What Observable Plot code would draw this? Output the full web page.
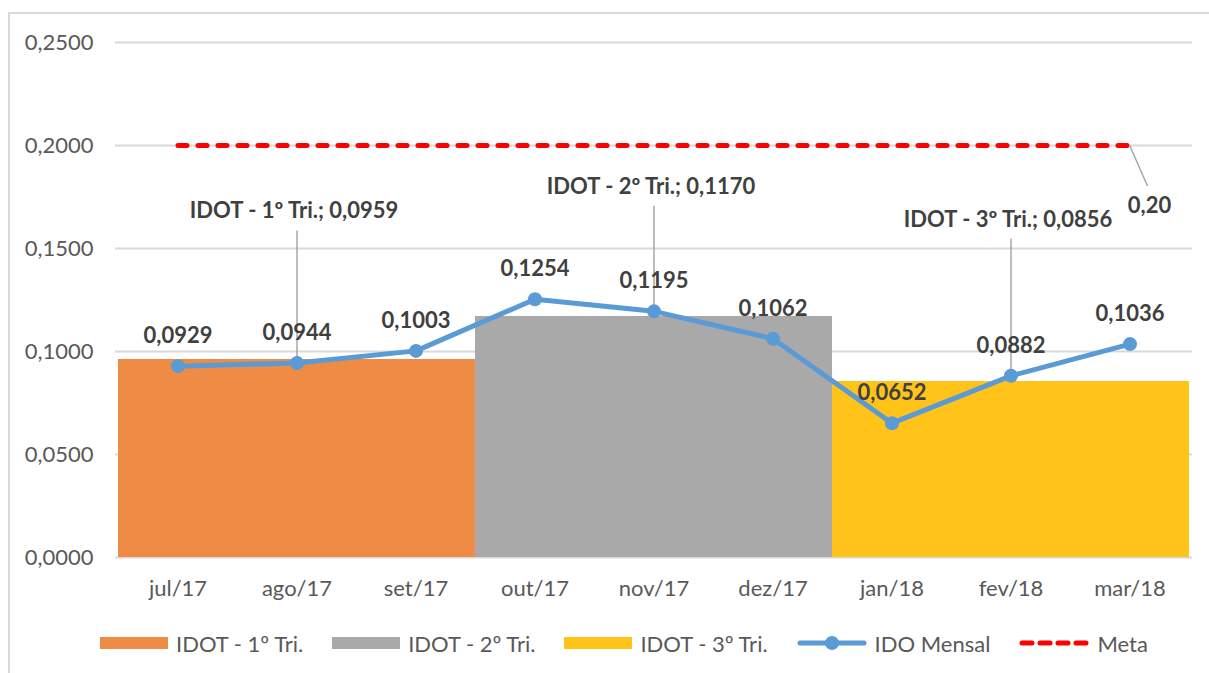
<!DOCTYPE html>
<html>
<head>
<meta charset="utf-8">
<script src="https://cdn.jsdelivr.net/npm/d3@7"></script>
<script src="https://cdn.jsdelivr.net/npm/@observablehq/plot@0.6"></script>
<style>
  html, body { margin: 0; padding: 0; background: #fff; }
  #frame { position: relative; width: 1209px; height: 673px; overflow: hidden; font-family: Lato, "Open Sans", sans-serif; }
  #border { position: absolute; left: 8px; top: 12px; width: 1220px; height: 700px; border: 2px solid #d9d9d9; box-sizing: border-box; }
  #chart { position: absolute; left: 0; top: 0; }
  #legend { position: absolute; left: 100px; top: 630px; height: 26px; display: flex; align-items: center; font-size: 22px; color: #595959; white-space: nowrap; }
  .item { display: flex; align-items: center; margin-right: 29px; }
  .item .sw { display: block; margin-right: 8px; }
</style>
</head>
<body>
<div id="frame">
  <div id="border"></div>
  <div id="chart"></div>
  <div id="legend"></div>
</div>
<script>
// ---- data ----
const months = ["jul/17","ago/17","set/17","out/17","nov/17","dez/17","jan/18","fev/18","mar/18"];
const idoMensal = [0.0929,0.0944,0.1003,0.1254,0.1195,0.1062,0.0652,0.0882,0.1036];
const quarters = ["IDOT - 1º Tri.","IDOT - 2º Tri.","IDOT - 3º Tri."];
const quarterValues = [0.0959,0.1170,0.0856];
const quarterOfMonth = [0,0,0,1,1,1,2,2,2];
const quarterLabelMonth = ["ago/17","nov/17","fev/18"];
const metaValue = 0.20;
const yTicks = [0,0.05,0.10,0.15,0.20,0.25];
const seriesNames = ["IDOT - 1º Tri.","IDOT - 2º Tri.","IDOT - 3º Tri.","IDO Mensal","Meta"];

// ---- styles ----
const quarterColors = ["#EE8B45","#A9A9A9","#FFC31A"];
const lineColor = "#5B9BD5";
const metaColor = "#FF0000";
const labelColor = "#404040";
const axisColor = "#595959";
const gridColor = "#d9d9d9";
const FS = 22;
// annotation placement (label heights above bar tops, in data units)
const quarterLabelLift = [0.0721, 0.0630, 0.0784];

const fmt = (d, n = 4) => d3.format(`.${n}f`)(d).replace(".", ",");

const barData = months.map((m, i) => ({month: m, quarter: quarters[quarterOfMonth[i]], value: quarterValues[quarterOfMonth[i]]}));
const monthly = months.map((m, i) => ({month: m, value: idoMensal[i]}));
const metaData = months.map(m => ({month: m, value: metaValue}));
const qLabels = quarters.map((q, i) => ({
  month: quarterLabelMonth[i], value: quarterValues[i], labelY: quarterValues[i] + quarterLabelLift[i],
  text: `${q}; ${fmt(quarterValues[i])}`
}));

const H = 620, mTop = 42, mBottom = 63;
const pxPerUnit = (H - mTop - mBottom) / 0.25;

const metaLeader = () => (index, scales) => {
  const x0 = scales.x(months[months.length - 1]) + scales.x.bandwidth() / 2;
  const y0 = scales.y(metaValue);
  const g = d3.create("svg:g");
  g.append("line").attr("x1", x0).attr("y1", y0).attr("x2", x0 + 18).attr("y2", y0 + 41)
    .attr("stroke", "#a6a6a6").attr("stroke-width", 1.5);
  g.append("text").attr("x", x0 + 20).attr("y", y0 + 62).attr("text-anchor", "middle")
    .attr("dominant-baseline", "middle").attr("font-weight", "bold").attr("font-size", FS)
    .attr("fill", labelColor).text(fmt(metaValue, 2));
  return g.node();
};

const chart = Plot.plot({
  width: 1209,
  height: H,
  marginLeft: 115,
  marginRight: 17,
  marginTop: mTop,
  marginBottom: mBottom,
  style: {fontFamily: "Lato, 'Open Sans', sans-serif", fontSize: FS + "px", color: axisColor, background: "transparent"},
  x: {domain: months, padding: 0, label: null},
  y: {domain: [0, 0.25], label: null},
  color: {domain: quarters, range: quarterColors},
  marks: [
    Plot.gridY(yTicks, {stroke: gridColor, strokeOpacity: 1, strokeWidth: 2}),
    Plot.axisY({ticks: yTicks, tickFormat: d => fmt(d), tickSize: 0, tickPadding: 22, fontSize: FS, label: null}),
    Plot.axisX({tickSize: 0, tickPadding: 23, fontSize: FS, label: null}),
    Plot.barY(barData, {x: "month", y: "value", fill: "quarter", shapeRendering: "crispEdges"}),
    Plot.line(metaData, {x: "month", y: "value", stroke: metaColor, strokeWidth: 5, strokeDasharray: "9,11", strokeLinecap: "round"}),
    Plot.link(qLabels, {x1: "month", x2: "month", y1: d => d.labelY - 19 / pxPerUnit, y2: "value", stroke: "#a6a6a6", strokeWidth: 1.5}),
    Plot.line(monthly, {x: "month", y: "value", stroke: lineColor, strokeWidth: 5, strokeLinejoin: "round"}),
    Plot.dot(monthly, {x: "month", y: "value", r: 7, fill: lineColor}),
    Plot.text(monthly, {x: "month", y: "value", text: d => fmt(d.value), dy: -30, fontWeight: "bold", fontSize: FS, fill: labelColor}),
    Plot.text(qLabels, {x: "month", y: "labelY", text: "text", dx: -3, fontWeight: "bold", fontSize: FS, fill: labelColor}),
    metaLeader()
  ]
});
document.getElementById("chart").appendChild(chart);

// ---- legend ----
const legend = d3.select("#legend");
seriesNames.forEach((name, i) => {
  const item = legend.append("div").attr("class", "item");
  const sw = item.append("svg").attr("class", "sw").attr("width", 70).attr("height", 16);
  if (i < 3) {
    sw.attr("width", 68);
    sw.append("rect").attr("x", 0).attr("y", 2).attr("width", 68).attr("height", 12).attr("fill", quarterColors[i]);
  } else if (i === 3) {
    sw.append("line").attr("x1", 3).attr("x2", 67).attr("y1", 8).attr("y2", 8).attr("stroke", lineColor).attr("stroke-width", 5).attr("stroke-linecap", "round");
    sw.append("circle").attr("cx", 35).attr("cy", 8).attr("r", 7).attr("fill", lineColor);
  } else {
    sw.append("line").attr("x1", 3).attr("x2", 67).attr("y1", 8).attr("y2", 8).attr("stroke", metaColor).attr("stroke-width", 5).attr("stroke-dasharray", "10,8").attr("stroke-linecap", "round");
  }
  item.append("span").text(name);
});
</script>
</body>
</html>
